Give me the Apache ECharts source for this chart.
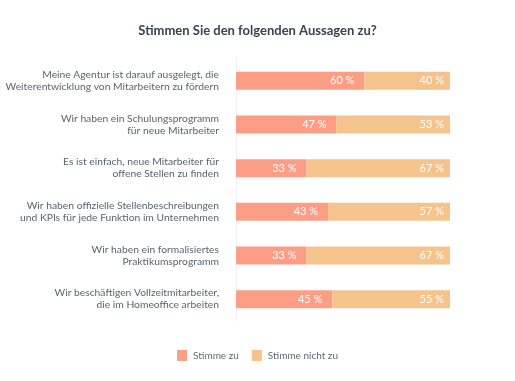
<!DOCTYPE html>
<html><head><meta charset="utf-8">
<script src="https://cdn.jsdelivr.net/npm/echarts@6/dist/echarts.min.js"></script>
<style>html,body{margin:0;padding:0;background:#fff}#c{width:515px;height:381px}</style>
</head><body><div id="c"></div>
<script>
const categories = [
  "Meine Agentur ist darauf ausgelegt, die\nWeiterentwicklung von Mitarbeitern zu fördern",
  "Wir haben ein Schulungsprogramm\nfür neue Mitarbeiter",
  "Es ist einfach, neue Mitarbeiter für\noffene Stellen zu finden",
  "Wir haben offizielle Stellenbeschreibungen\nund KPIs für jede Funktion im Unternehmen",
  "Wir haben ein formalisiertes\nPraktikumsprogramm",
  "Wir beschäftigen Vollzeitmitarbeiter,\ndie im Homeoffice arbeiten"
];
const agree = [60, 47, 33, 43, 33, 45];
const disagree = [40, 53, 67, 57, 67, 55];
const seriesNames = ["Stimme zu", "Stimme nicht zu"];
const colors = ["#fc9e86", "#f5c38c"];

const chart = echarts.init(document.getElementById('c'));
const labelCfg = (d) => ({
  show: true, position: 'insideRight', color: '#ffffff', fontSize: 11,
  fontFamily: 'Lato', distance: d, formatter: p => p.value + ' %'
});
chart.setOption({
  animation: false,
  title: {
    text: 'Stimmen Sie den folgenden Aussagen zu?', left: 'center', top: 19,
    textStyle: { fontFamily: 'Lato', fontSize: 13, fontWeight: 'bold', color: '#3a4350' }
  },
  legend: {
    bottom: 15, left: 'center', itemWidth: 10, itemHeight: 11, itemGap: 13,
    icon: 'rect',
    textStyle: { fontFamily: 'Lato', fontSize: 10, color: '#5f6873', padding: [0, 0, 0, 1] },
    data: seriesNames
  },
  grid: { left: 236, right: 65, top: 59, bottom: 60, outerBoundsMode: 'none', containLabel: false },
  xAxis: { type: 'value', min: 0, max: 100, show: false },
  yAxis: {
    type: 'category', data: categories, inverse: true,
    axisLine: { show: true, lineStyle: { color: '#eef1f4', width: 1 } },
    axisTick: { show: false },
    axisLabel: { fontFamily: 'Lato', fontSize: 10.3, color: '#5a6470', lineHeight: 12, margin: 17, align: 'right' }
  },
  series: [
    { name: seriesNames[0], type: 'bar', stack: 's', data: agree, barWidth: 18,
      itemStyle: { color: colors[0] }, label: labelCfg(10) },
    { name: seriesNames[1], type: 'bar', stack: 's', data: disagree, barWidth: 18,
      itemStyle: { color: colors[1] }, label: labelCfg(6) }
  ]
});
</script></body></html>
